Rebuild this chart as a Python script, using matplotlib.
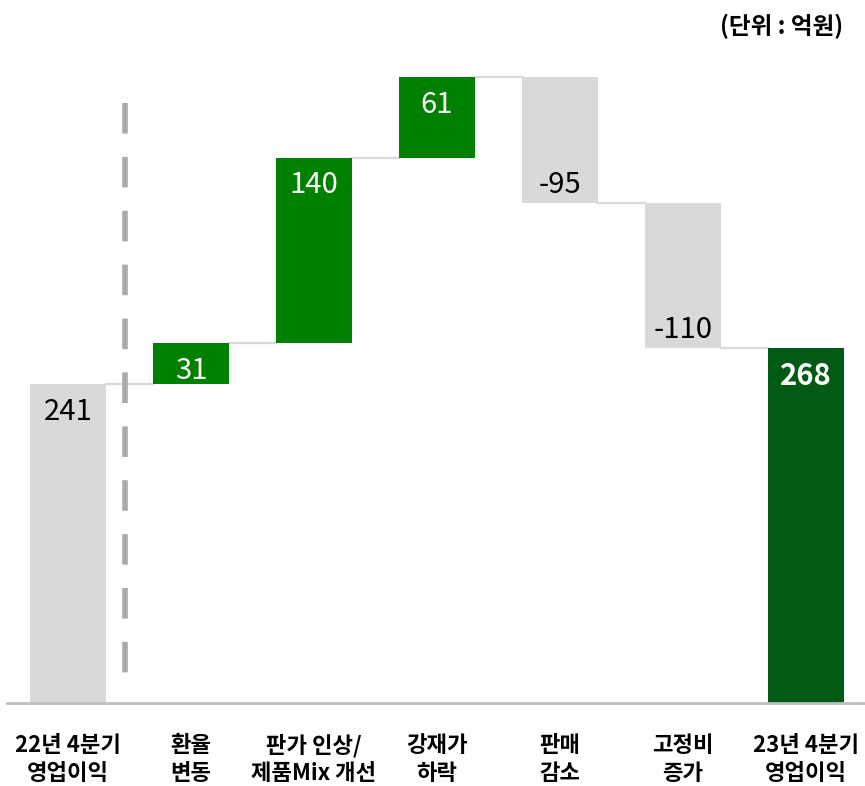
import matplotlib

matplotlib.use("Agg")
import matplotlib.pyplot as plt
import numpy as np

plt.rcParams["font.family"] = ["Noto Sans CJK KR", "DejaVu Sans"]

# ---- data ------------------------------------------------------------------
categories = ["22년 4분기\n영업이익", "환율\n변동", "판가 인상/\n제품Mix 개선", "강재가\n하락",
              "판매\n감소", "고정비\n증가", "23년 4분기\n영업이익"]
values = [241, 31, 140, 61, -95, -110, 268]
kinds = ["total", "delta", "delta", "delta", "delta", "delta", "total"]

GRAY, GREEN, DARK = "#D9D9D9", "#008000", "#005A14"

# ---- waterfall geometry ------------------------------------------------------
bottoms, tops = [], []
level = 0
for v, k in zip(values, kinds):
    if k == "total":
        bottoms.append(0); tops.append(v); level = v
    else:
        bottoms.append(min(level, level + v)); tops.append(max(level, level + v)); level += v
bottoms, tops = np.array(bottoms), np.array(tops)
ends = np.where(np.array(values) < 0, bottoms, tops)   # level after each step
colors = [GRAY if k == "total" and i == 0 else DARK if k == "total" else GREEN if v > 0 else GRAY
          for i, (v, k) in enumerate(zip(values, kinds))]

fig = plt.figure(figsize=(8.65, 7.86), dpi=100)
ax = fig.add_axes([7 / 865, 83 / 786, 858 / 865, 643 / 786])
x = np.arange(len(values))
w = 0.618
ax.bar(x, tops - bottoms, bottom=bottoms, width=w, color=colors, zorder=2)

# connectors between bars
for i in range(len(values) - 1):
    ax.plot([x[i] + w / 2, x[i + 1] - w / 2], [ends[i], ends[i]], color=GRAY, lw=1.6, zorder=1)

# dashed separator after the starting bar (drawn top-down so a dash starts at the top)
ax.plot([0.463, 0.463], [453, 9.8], color="#AAAAAA", lw=4, ls=(0, (5.5, 4.2)), zorder=1)

# value labels
for i, v in enumerate(values):
    txt_color = "black" if colors[i] == GRAY else "white"
    weight = "bold" if colors[i] == DARK else "normal"
    if v >= 0:
        y, dy = tops[i], -20
    else:
        y, dy = bottoms[i], 13
    ax.annotate(f"{v}", (x[i], y), xytext=(0, dy), textcoords="offset points",
                ha="center", va="center", fontsize=21, color=txt_color, fontweight=weight,
                zorder=3)

ax.set_xlim(-0.496, 6.48)
ax.set_ylim(0, 485.8)
for s in ["top", "right", "left"]:
    ax.spines[s].set_visible(False)
ax.spines["bottom"].set_color("#BFBFBF")
ax.spines["bottom"].set_linewidth(2)
ax.set_yticks([])
ax.set_xticks(x)
ax.set_xticklabels(categories, fontsize=16, fontweight="bold", linespacing=1.3)
ax.tick_params(axis="x", length=0, pad=22)

fig.text(843 / 865, 1 - 26 / 786, "(단위 : 억원)", ha="right", va="center",
         fontsize=17, fontweight="bold")

fig.savefig("out.png", dpi=100)
